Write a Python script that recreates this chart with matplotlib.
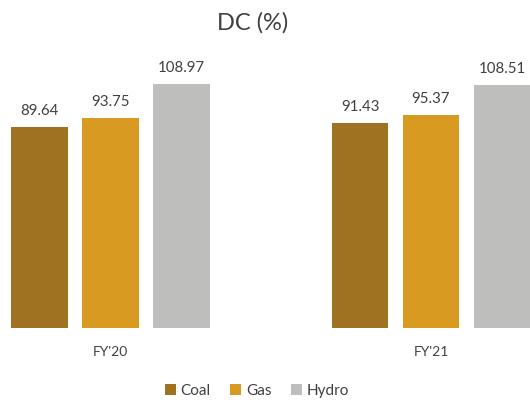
import matplotlib.pyplot as plt
import numpy as np

plt.rcParams['font.family'] = ['Lato', 'DejaVu Sans']

years = ["FY'20", "FY'21"]
sources = ["Coal", "Gas", "Hydro"]
coal = [89.64, 91.43]
gas = [93.75, 95.37]
hydro = [108.97, 108.51]
colors = ["#9e7220", "#d99a22", "#bebebc"]

fig = plt.figure(figsize=(5.30, 4.04), dpi=100)
ax = fig.add_axes([0, 76.5 / 404, 1, 268 / 404])

x = np.arange(len(years))
width = 0.176
step = 0.2215
for i, (name, vals) in enumerate(zip(sources, [coal, gas, hydro])):
    pos = x + (i - 1) * step
    bars = ax.bar(pos, vals, width=width, color=colors[i], label=name)
    for b, v in zip(bars, vals):
        ax.text(b.get_x() + b.get_width() / 2, v + 4, f"{v:.2f}",
                ha='center', va='bottom', fontsize=10.8, color='#404040')

ax.set_xlim(-0.345, 1.309)
ax.set_ylim(0, 120)
ax.axis('off')

for xi, lab in zip(x, years):
    ax.text(xi, -11, lab, ha='center', va='center', fontsize=10, color='#404040')

fig.text(253 / 530, 1 - 23 / 404, "DC (%)", ha='center', va='center',
         fontsize=17, color='#404040')

fig.legend(loc='center', bbox_to_anchor=(257 / 530, 1 - 391 / 404), ncol=3,
           frameon=False, fontsize=11, handlelength=0.7, handleheight=0.7,
           handletextpad=0.3, columnspacing=1.3, labelcolor='#404040')

fig.savefig('out.png', dpi=100)
